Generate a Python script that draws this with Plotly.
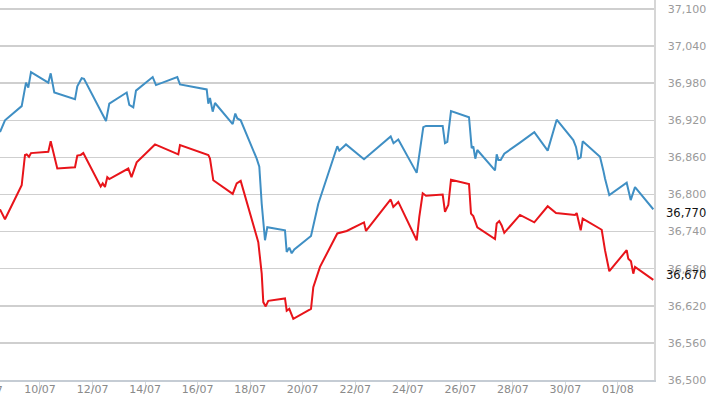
import pandas as pd
import plotly.graph_objects as go

# ---- data ----
blue_time = [
    "2023-07-08 11:28", "2023-07-08 16:01", "2023-07-09 07:17", "2023-07-09 11:13", "2023-07-09 13:19",
    "2023-07-09 15:47", "2023-07-10 07:35", "2023-07-10 09:47", "2023-07-10 13:04", "2023-07-11 07:59",
    "2023-07-11 10:05", "2023-07-11 14:06", "2023-07-11 16:12", "2023-07-12 08:22", "2023-07-12 12:18",
    "2023-07-12 15:19", "2023-07-13 07:13", "2023-07-13 09:35", "2023-07-13 13:14", "2023-07-13 15:42",
    "2023-07-14 06:58", "2023-07-14 09:59", "2023-07-15 05:26", "2023-07-15 07:54", "2023-07-16 08:18",
    "2023-07-16 09:46", "2023-07-16 11:18", "2023-07-16 13:47", "2023-07-16 15:53", "2023-07-17 08:03",
    "2023-07-17 10:25", "2023-07-17 12:15", "2023-07-17 15:21", "2023-07-18 05:58", "2023-07-18 08:21",
    "2023-07-18 10:33", "2023-07-18 11:28", "2023-07-18 13:33", "2023-07-18 15:39", "2023-07-19 07:50",
    "2023-07-19 09:23", "2023-07-19 11:45", "2023-07-19 13:57", "2023-07-19 16:19", "2023-07-20 07:35",
    "2023-07-20 14:15", "2023-07-21 07:36", "2023-07-21 09:26", "2023-07-21 15:33", "2023-07-22 08:00",
    "2023-07-23 08:23", "2023-07-23 10:57", "2023-07-23 15:20", "2023-07-24 08:08", "2023-07-24 14:10",
    "2023-07-24 16:38", "2023-07-25 07:53", "2023-07-25 10:00", "2023-07-25 12:06", "2023-07-25 15:29",
    "2023-07-26 07:56", "2023-07-26 10:23", "2023-07-26 11:51", "2023-07-26 13:41", "2023-07-26 15:31",
    "2023-07-27 07:41", "2023-07-27 09:14", "2023-07-27 10:42", "2023-07-27 12:53", "2023-07-27 16:10",
    "2023-07-28 06:31", "2023-07-28 19:35", "2023-07-29 07:49", "2023-07-29 16:02", "2023-07-30 07:12",
    "2023-07-30 09:40", "2023-07-30 11:46", "2023-07-30 13:58", "2023-07-30 15:47", "2023-07-31 07:36",
    "2023-07-31 10:37", "2023-07-31 12:10", "2023-07-31 16:06", "2023-08-01 07:59", "2023-08-01 11:39",
    "2023-08-01 15:35", "2023-08-02 08:18",
]
blue_value = [
    36901, 36920, 36943, 36981, 36973,
    36998, 36981, 36996, 36965, 36954,
    36975, 36988, 36987, 36934, 36919,
    36947, 36965, 36945, 36941, 36968,
    36990, 36977, 36990, 36978, 36970,
    36947, 36956, 36934, 36948, 36914,
    36931, 36923, 36920, 36858, 36845,
    36785, 36769, 36726, 36747, 36742,
    36707, 36714, 36705, 36711, 36733,
    36785, 36878, 36871, 36881, 36857,
    36894, 36883, 36889, 36835, 36909,
    36911, 36911, 36883, 36885, 36935,
    36925, 36875, 36878, 36858, 36872,
    36839, 36865, 36856, 36856, 36866,
    36884, 36901, 36871, 36921, 36888,
    36877, 36858, 36860, 36886, 36861,
    36839, 36826, 36799, 36819, 36791,
    36812, 36776,
]

red_time = [
    "2023-07-08 11:28", "2023-07-08 16:01", "2023-07-09 07:17", "2023-07-09 10:18", "2023-07-09 11:51",
    "2023-07-09 13:57", "2023-07-09 15:47", "2023-07-10 07:35", "2023-07-10 09:47", "2023-07-10 15:48",
    "2023-07-11 07:59", "2023-07-11 10:05", "2023-07-11 13:11", "2023-07-11 15:34", "2023-07-12 07:27",
    "2023-07-12 09:17", "2023-07-12 11:23", "2023-07-12 13:29", "2023-07-12 15:19", "2023-07-13 08:40",
    "2023-07-13 11:36", "2023-07-13 16:20", "2023-07-14 09:04", "2023-07-15 06:21", "2023-07-15 07:54",
    "2023-07-16 09:46", "2023-07-16 11:18", "2023-07-16 14:19", "2023-07-17 08:03", "2023-07-17 11:42",
    "2023-07-17 15:21", "2023-07-18 07:26", "2023-07-18 10:33", "2023-07-18 12:00", "2023-07-18 14:12",
    "2023-07-18 16:34", "2023-07-19 07:50", "2023-07-19 09:23", "2023-07-19 11:45", "2023-07-19 15:25",
    "2023-07-20 07:35", "2023-07-20 09:41", "2023-07-20 15:48", "2023-07-21 07:36", "2023-07-21 16:12",
    "2023-07-22 08:00", "2023-07-22 09:50", "2023-07-23 08:23", "2023-07-23 10:46", "2023-07-23 15:20",
    "2023-07-24 08:08", "2023-07-24 10:31", "2023-07-24 13:38", "2023-07-24 16:38", "2023-07-25 07:53",
    "2023-07-25 10:00", "2023-07-25 13:01", "2023-07-25 15:29", "2023-07-26 07:56", "2023-07-26 09:45",
    "2023-07-26 11:51", "2023-07-26 15:31", "2023-07-27 07:41", "2023-07-27 09:14", "2023-07-27 11:36",
    "2023-07-27 13:47", "2023-07-27 16:10", "2023-07-28 06:31", "2023-07-28 19:35", "2023-07-29 07:49",
    "2023-07-29 15:25", "2023-07-30 08:46", "2023-07-30 10:19", "2023-07-30 13:58", "2023-07-30 15:47",
    "2023-07-31 09:10", "2023-07-31 12:10", "2023-07-31 16:06", "2023-08-01 07:59", "2023-08-01 09:27",
    "2023-08-01 11:54", "2023-08-01 14:01", "2023-08-01 15:35", "2023-08-02 08:18",
]
red_value = [
    36776, 36760, 36815, 36864, 36865,
    36861, 36867, 36869, 36886, 36842,
    36844, 36863, 36864, 36867, 36813,
    36818, 36812, 36828, 36825, 36842,
    36828, 36852, 36881, 36865, 36880,
    36864, 36858, 36823, 36801, 36818,
    36822, 36723, 36672, 36626, 36619,
    36628, 36632, 36612, 36615, 36599,
    36615, 36650, 36683, 36737, 36741,
    36755, 36741, 36792, 36780, 36788,
    36726, 36764, 36802, 36798, 36800,
    36772, 36783, 36824, 36817, 36769,
    36765, 36747, 36728, 36753, 36757,
    36750, 36738, 36767, 36755, 36781,
    36770, 36767, 36770, 36742, 36761,
    36743, 36710, 36676, 36710, 36696,
    36692, 36672, 36683, 36662,
]

tick_dates = ["2023-07-08", "2023-07-10", "2023-07-12", "2023-07-14", "2023-07-16", "2023-07-18",
              "2023-07-20", "2023-07-22", "2023-07-24", "2023-07-26", "2023-07-28", "2023-07-30",
              "2023-08-01"]
tick_labels = ["08/07", "10/07", "12/07", "14/07", "16/07", "18/07", "20/07", "22/07", "24/07",
               "26/07", "28/07", "30/07", "01/08"]
y_ticks = [36500, 36560, 36620, 36680, 36740, 36800, 36860, 36920, 36980, 37040, 37100]
last_labels = [36770, 36670]

x_range = ["2023-07-08 11:28", "2023-08-02 08:56"]
y_range = [36500, 37114.6]

BLUE = "#3f8fc4"
RED = "#e8141a"
FONT = "DejaVu Sans"

fig = go.Figure()
fig.add_trace(go.Scatter(x=blue_time, y=blue_value, mode="lines",
                         line=dict(color=BLUE, width=2), hoverinfo="skip"))
fig.add_trace(go.Scatter(x=red_time, y=red_value, mode="lines",
                         line=dict(color=RED, width=2), hoverinfo="skip"))

# partially visible first date label (outside range)
t0 = pd.Timestamp(x_range[0])
t1 = pd.Timestamp(x_range[1])
first_pos = (pd.Timestamp(tick_dates[0]) - t0) / (t1 - t0)

annotations = [
    dict(x=first_pos, y=0, xref="paper", yref="paper", xanchor="center", yanchor="top",
         text=tick_labels[0], showarrow=False, yshift=-2,
         font=dict(family=FONT, size=11, color="#8a8a8a")),
]
for v in last_labels:
    annotations.append(dict(x=1, y=v, xref="paper", yref="y", xanchor="left", yanchor="middle",
                            text=f"{v:,}", showarrow=False, xshift=10,
                            font=dict(family=FONT, size=11.5, color="#111111")))

fig.update_layout(
    width=710, height=399,
    margin=dict(l=0, r=56, t=0, b=19),
    paper_bgcolor="white", plot_bgcolor="white",
    showlegend=False,
    annotations=annotations,
    xaxis=dict(
        type="date", range=x_range,
        tickvals=tick_dates[1:], ticktext=tick_labels[1:],
        showgrid=False, zeroline=False,
        showline=True, linecolor="#c5ccd4", linewidth=1.5,
        ticks="outside", ticklen=10, tickcolor="#d3d8de", tickwidth=1,
        ticklabelstandoff=-12,
        tickfont=dict(family=FONT, size=11, color="#8a8a8a"),
    ),
    yaxis=dict(
        side="right", range=y_range,
        tickvals=y_ticks, ticktext=[f"{v:,}" for v in y_ticks],
        showgrid=True, gridcolor="#cfcfcf", gridwidth=1.5,
        zeroline=False,
        showline=True, linecolor="#d6d6d6", linewidth=1.5,
        ticks="", ticklabelstandoff=10,
        tickfont=dict(family=FONT, size=11, color="#9a9a9a"),
    ),
)

fig.write_html("out.html", config={"displayModeBar": False, "staticPlot": True})

# remove the default page margin so the figure sits at the window's top-left corner
with open("out.html", "r", encoding="utf-8") as f:
    html = f.read()
html = html.replace("<head>", "<head><style>html,body{margin:0;padding:0;overflow:hidden;}</style>", 1)
with open("out.html", "w", encoding="utf-8") as f:
    f.write(html)
